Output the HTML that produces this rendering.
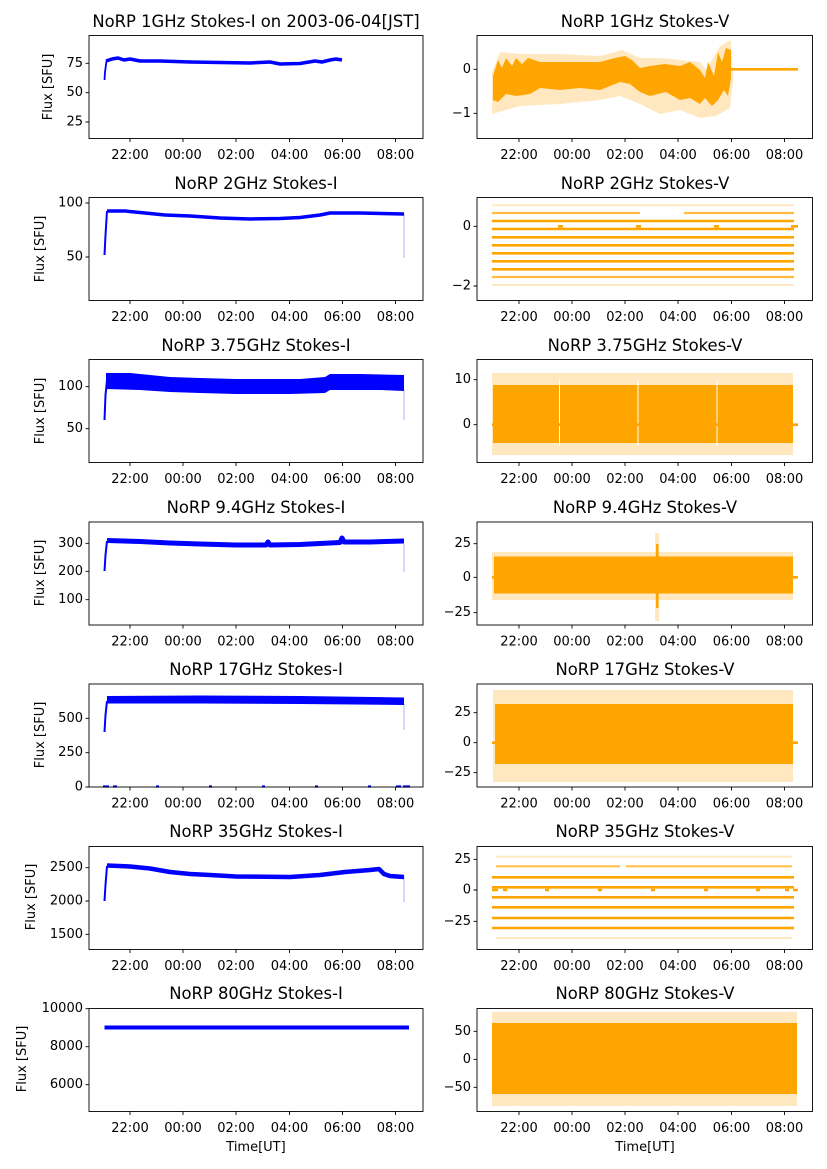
<!DOCTYPE html>
<html><head><meta charset="utf-8"><style>
html,body{margin:0;padding:0;background:#fff}
svg{display:block}
text{font-family:"DejaVu Sans","Liberation Sans",sans-serif;fill:#000}
.t{font-size:16.4px;text-anchor:middle}
.xl{font-size:13px;text-anchor:middle}
.yl{font-size:13px;text-anchor:end;dominant-baseline:central}
.ax{fill:none;stroke:#000;stroke-width:0.9}
.tk{stroke:#000;stroke-width:0.9}
.b{fill:none;stroke:#0000ff;stroke-linejoin:round}
.o{fill:#ffa500}
.of{fill:#ffa500;opacity:0.25}
.ol{stroke:#ffa500;stroke-width:2.6}
</style></head><body>
<svg width="827" height="1169" viewBox="0 0 827 1169" xmlns="http://www.w3.org/2000/svg">
<rect width="827" height="1169" fill="#fff"/>

<!-- ===== Titles ===== -->
<text class="t" x="256" y="27">NoRP 1GHz Stokes-I on 2003-06-04[JST]</text>
<text class="t" x="645" y="27">NoRP 1GHz Stokes-V</text>
<text class="t" x="256" y="189">NoRP 2GHz Stokes-I</text>
<text class="t" x="645" y="189">NoRP 2GHz Stokes-V</text>
<text class="t" x="256" y="351">NoRP 3.75GHz Stokes-I</text>
<text class="t" x="645" y="351">NoRP 3.75GHz Stokes-V</text>
<text class="t" x="256" y="513">NoRP 9.4GHz Stokes-I</text>
<text class="t" x="645" y="513">NoRP 9.4GHz Stokes-V</text>
<text class="t" x="256" y="675">NoRP 17GHz Stokes-I</text>
<text class="t" x="645" y="675">NoRP 17GHz Stokes-V</text>
<text class="t" x="256" y="837">NoRP 35GHz Stokes-I</text>
<text class="t" x="645" y="837">NoRP 35GHz Stokes-V</text>
<text class="t" x="256" y="999">NoRP 80GHz Stokes-I</text>
<text class="t" x="645" y="999">NoRP 80GHz Stokes-V</text>

<!-- ===== Y axis labels ===== -->
<text font-size="13" text-anchor="middle" transform="translate(52,87) rotate(-90)">Flux [SFU]</text>
<text font-size="13" text-anchor="middle" transform="translate(44,249) rotate(-90)">Flux [SFU]</text>
<text font-size="13" text-anchor="middle" transform="translate(44,411) rotate(-90)">Flux [SFU]</text>
<text font-size="13" text-anchor="middle" transform="translate(44,573) rotate(-90)">Flux [SFU]</text>
<text font-size="13" text-anchor="middle" transform="translate(44,735) rotate(-90)">Flux [SFU]</text>
<text font-size="13" text-anchor="middle" transform="translate(35,897) rotate(-90)">Flux [SFU]</text>
<text font-size="13" text-anchor="middle" transform="translate(26,1059) rotate(-90)">Flux [SFU]</text>

<!-- ===== X ticks ===== -->
<g id="xt">
<g class="tk">
<path d="M130,138.5v3.5M183,138.5v3.5M236,138.5v3.5M289.5,138.5v3.5M342.5,138.5v3.5M395.5,138.5v3.5
M519,138.5v3.5M572,138.5v3.5M625,138.5v3.5M678,138.5v3.5M731.5,138.5v3.5M784.5,138.5v3.5"/>
</g>
</g>
<use href="#xt" y="162"/><use href="#xt" y="324"/><use href="#xt" y="486.5"/><use href="#xt" y="648.5"/><use href="#xt" y="811"/><use href="#xt" y="973"/>

<g class="xl">
<text x="130" y="159">22:00</text><text x="183" y="159">00:00</text><text x="236" y="159">02:00</text><text x="289.5" y="159">04:00</text><text x="342.5" y="159">06:00</text><text x="395.5" y="159">08:00</text>
<text x="519" y="159">22:00</text><text x="572" y="159">00:00</text><text x="625" y="159">02:00</text><text x="678" y="159">04:00</text><text x="731.5" y="159">06:00</text><text x="784.5" y="159">08:00</text>
<text x="130" y="321">22:00</text><text x="183" y="321">00:00</text><text x="236" y="321">02:00</text><text x="289.5" y="321">04:00</text><text x="342.5" y="321">06:00</text><text x="395.5" y="321">08:00</text>
<text x="519" y="321">22:00</text><text x="572" y="321">00:00</text><text x="625" y="321">02:00</text><text x="678" y="321">04:00</text><text x="731.5" y="321">06:00</text><text x="784.5" y="321">08:00</text>
<text x="130" y="483">22:00</text><text x="183" y="483">00:00</text><text x="236" y="483">02:00</text><text x="289.5" y="483">04:00</text><text x="342.5" y="483">06:00</text><text x="395.5" y="483">08:00</text>
<text x="519" y="483">22:00</text><text x="572" y="483">00:00</text><text x="625" y="483">02:00</text><text x="678" y="483">04:00</text><text x="731.5" y="483">06:00</text><text x="784.5" y="483">08:00</text>
<text x="130" y="645.5">22:00</text><text x="183" y="645.5">00:00</text><text x="236" y="645.5">02:00</text><text x="289.5" y="645.5">04:00</text><text x="342.5" y="645.5">06:00</text><text x="395.5" y="645.5">08:00</text>
<text x="519" y="645.5">22:00</text><text x="572" y="645.5">00:00</text><text x="625" y="645.5">02:00</text><text x="678" y="645.5">04:00</text><text x="731.5" y="645.5">06:00</text><text x="784.5" y="645.5">08:00</text>
<text x="130" y="807.5">22:00</text><text x="183" y="807.5">00:00</text><text x="236" y="807.5">02:00</text><text x="289.5" y="807.5">04:00</text><text x="342.5" y="807.5">06:00</text><text x="395.5" y="807.5">08:00</text>
<text x="519" y="807.5">22:00</text><text x="572" y="807.5">00:00</text><text x="625" y="807.5">02:00</text><text x="678" y="807.5">04:00</text><text x="731.5" y="807.5">06:00</text><text x="784.5" y="807.5">08:00</text>
<text x="130" y="970">22:00</text><text x="183" y="970">00:00</text><text x="236" y="970">02:00</text><text x="289.5" y="970">04:00</text><text x="342.5" y="970">06:00</text><text x="395.5" y="970">08:00</text>
<text x="519" y="970">22:00</text><text x="572" y="970">00:00</text><text x="625" y="970">02:00</text><text x="678" y="970">04:00</text><text x="731.5" y="970">06:00</text><text x="784.5" y="970">08:00</text>
<text x="130" y="1132">22:00</text><text x="183" y="1132">00:00</text><text x="236" y="1132">02:00</text><text x="289.5" y="1132">04:00</text><text x="342.5" y="1132">06:00</text><text x="395.5" y="1132">08:00</text>
<text x="519" y="1132">22:00</text><text x="572" y="1132">00:00</text><text x="625" y="1132">02:00</text><text x="678" y="1132">04:00</text><text x="731.5" y="1132">06:00</text><text x="784.5" y="1132">08:00</text>
</g>
<text font-size="13" text-anchor="middle" x="256" y="1151">Time[UT]</text>
<text font-size="13" text-anchor="middle" x="645" y="1151">Time[UT]</text>

<!-- ===== Y ticks ===== -->
<g class="tk">
<path d="M89,63.3h-3.5M89,92.7h-3.5M89,122h-3.5
M477,69.3h-3.5M477,113.3h-3.5
M89,203h-3.5M89,257h-3.5
M477,226.3h-3.5M477,286h-3.5
M89,386.7h-3.5M89,428.7h-3.5
M477,379.7h-3.5M477,424.7h-3.5
M89,543.3h-3.5M89,571.3h-3.5M89,599.7h-3.5
M477,543.7h-3.5M477,577.3h-3.5M477,612.7h-3.5
M89,718.3h-3.5M89,752.7h-3.5M89,787h-3.5
M477,712.7h-3.5M477,742.7h-3.5M477,772.7h-3.5
M89,867.7h-3.5M89,901h-3.5M89,934.3h-3.5
M477,859.3h-3.5M477,890h-3.5M477,921.3h-3.5
M89,1008.7h-3.5M89,1046.7h-3.5M89,1084.7h-3.5
M477,1031.3h-3.5M477,1059.3h-3.5M477,1087.3h-3.5"/>
</g>
<g class="yl">
<text x="83" y="63.3">75</text><text x="83" y="92.7">50</text><text x="83" y="122">25</text>
<text x="471" y="69.3">0</text><text x="471" y="113.3">−1</text>
<text x="83" y="203">100</text><text x="83" y="257">50</text>
<text x="471" y="226.3">0</text><text x="471" y="286">−2</text>
<text x="83" y="386.7">100</text><text x="83" y="428.7">50</text>
<text x="471" y="379.7">10</text><text x="471" y="424.7">0</text>
<text x="83" y="543.3">300</text><text x="83" y="571.3">200</text><text x="83" y="599.7">100</text>
<text x="471" y="543.7">25</text><text x="471" y="577.3">0</text><text x="471" y="612.7">−25</text>
<text x="83" y="718.3">500</text><text x="83" y="752.7">250</text><text x="83" y="787">0</text>
<text x="471" y="712.7">25</text><text x="471" y="742.7">0</text><text x="471" y="772.7">−25</text>
<text x="83" y="867.7">2500</text><text x="83" y="901">2000</text><text x="83" y="934.3">1500</text>
<text x="471" y="859.3">25</text><text x="471" y="890">0</text><text x="471" y="921.3">−25</text>
<text x="83" y="1008.7">10000</text><text x="83" y="1046.7">8000</text><text x="83" y="1084.7">6000</text>
<text x="471" y="1031.3">50</text><text x="471" y="1059.3">0</text><text x="471" y="1087.3">−50</text>
</g>

<!-- ===== LEFT DATA (blue) ===== -->
<path class="b" stroke-width="1.8" d="M104.5,80 L105,72 L106.5,61"/>
<path class="b" stroke-width="3.5" d="M106,61 L112,59 L118,58 L124,60 L130,59 L140,61 L160,61 L190,62 L220,62.5 L250,63 L270,62 L280,64 L300,63.5 L315,61 L322,62 L330,60 L336,59 L342,60"/>
<path class="b" stroke-width="2" d="M104.5,255 L105.5,235 L107,211"/>
<path class="b" stroke-width="3.5" d="M107,211 L125,211 L145,213 L165,215 L190,216 L220,218 L250,219 L280,218.5 L300,217.5 L320,215 L330,213 L360,213 L404,214"/>
<path stroke="#0000ff" stroke-opacity="0.3" stroke-width="1" d="M404,214 V258"/>
<path class="b" stroke-width="2" d="M104.5,420 L105.5,395 L107,380"/>
<path fill="#0000ff" d="M106,373 L130,373 L160,376 L170,377 L200,378 L236,379 L270,379 L300,379 L325,377 L330,374 L360,374 L404,375 L404,391 L380,390 L330,390 L325,393 L290,394 L236,394 L200,393 L170,392 L140,390 L106,389 Z"/>
<path stroke="#0000ff" stroke-opacity="0.3" stroke-width="1" d="M404,390 V420"/>
<path class="b" stroke-width="2" d="M104.5,571 L105.5,555 L107,541"/>
<path class="b" stroke-width="5" d="M107,540.5 L140,541.5 L170,543 L200,544 L236,545 L266,545 L268,542 L270,545 L300,544.5 L340,542.5 L342,538 L344,542 L370,542 L404,541"/>
<path stroke="#0000ff" stroke-opacity="0.3" stroke-width="1" d="M404,544 V572"/>
<path class="b" stroke-width="2" d="M104.5,732 L105.5,715 L107,701"/>
<path fill="#0000ff" d="M107,696 L200,695.5 L300,696 L404,697.5 L404,705 L300,704 L200,703.5 L107,703.5 Z"/>
<path stroke="#0000ff" stroke-opacity="0.3" stroke-width="1" d="M404,704 V730"/>
<path stroke="#0000ff" stroke-width="2.2" d="M103,786.5h6M113,786.5h4M156,786.5h3M209,786.5h3M262,786.5h3M315,786.5h3M368,786.5h3M396,786.5h5M403,786.5h7"/>
<path class="b" stroke-width="2" d="M104.5,901 L105.5,885 L107,866"/>
<path class="b" stroke-width="4.5" d="M107,865.5 L130,866.5 L150,868.5 L170,872 L190,874 L210,875 L236,876.5 L290,877 L320,875 L345,872 L370,870 L379,869 L384,874 L390,876 L404,877"/>
<path stroke="#0000ff" stroke-opacity="0.3" stroke-width="1" d="M404,877 V902"/>
<path class="b" stroke-width="4" d="M104.5,1027.5 L409,1027.5"/>

<!-- ===== RIGHT DATA (orange) ===== -->
<path class="of" d="M492,72 L500,52 L520,54 L560,54 L600,56 L622,50 L640,58 L660,58 L680,60 L700,62 L706,70 L720,46 L731,40 L733,80 L730,108 L716,116 L700,118 L680,110 L660,114 L640,104 L620,96 L600,100 L560,104 L520,106 L492,114 Z"/>
<path class="o" d="M493,76 L498,60 L502,68 L506,58 L512,66 L516,58 L522,64 L528,58 L540,62 L560,62 L580,62 L600,62 L615,58 L625,56 L632,60 L640,68 L650,66 L665,64 L680,66 L690,62 L700,70 L705,78 L708,62 L714,76 L718,52 L722,62 L726,48 L731,50 L731,78 L728,96 L724,90 L718,100 L712,106 L705,98 L700,104 L690,98 L680,100 L666,92 L650,96 L640,92 L630,84 L620,82 L600,90 L580,88 L560,90 L540,88 L530,94 L516,96 L506,94 L498,102 L493,100 Z"/>
<path class="ol" d="M731,69.3 H798"/>
<g class="ol">
<path d="M492,221 H794M492,229 H794M492,237.3 H794M492,245.3 H794M492,253.3 H794M492,261.3 H794M492,269.3 H794"/>
<path d="M558,226.3h5M636,226.3h5M714,226.3h5M791,226.3h7"/>
</g>
<path stroke="#ffa500" stroke-width="2.2" stroke-opacity="0.75" d="M492,213 H640M684,213 H794M492,277 H794"/>
<path stroke="#ffa500" stroke-width="2" stroke-opacity="0.25" d="M492,205.3 H794M492,285 H794M640,285 H700"/>
<path class="of" d="M492,373 H793 V455 H492 Z"/>
<path class="o" d="M493,385 H793 V443 H493 Z"/>
<path stroke="#fff" stroke-width="1" d="M559.5,380 V446M638,380 V446M717,380 V446"/>
<path class="ol" d="M492,424.7 H798"/>
<path class="of" d="M492,552 H793 V600 H492 Z"/>
<path class="o" d="M494,556.5 H793 V593.5 H494 Z"/>
<path class="of" d="M655,533 h4 v88 h-4 Z"/>
<path class="o" d="M656,544 h2.5 v64 h-2.5 Z"/>
<path class="ol" d="M492,577.3 H798"/>
<path class="of" d="M493,690 H793 V782 H493 Z"/>
<path class="o" d="M495,704 H793 V764 H495 Z"/>
<path class="ol" d="M492,742.7 H798"/>
<g class="ol">
<path d="M492,877.3 H794M492,887.3 H794M492,897.3 H794M492,907.3 H794M492,918 H794M492,928 H794"/>
<path d="M492,890h6M503,890h4M545,890h4M598,890h4M651,890h4M704,890h4M756,890h4M785,890h4M793,890h5"/>
</g>
<path stroke="#ffa500" stroke-width="2.2" stroke-opacity="0.7" d="M496,866.3 H620M626,866.3 H792"/>
<path stroke="#ffa500" stroke-width="2" stroke-opacity="0.25" d="M496,856.7 H792M496,938 H792"/>
<path class="of" d="M492,1012 H797 V1106 H492 Z"/>
<path class="o" d="M492,1023 H797 V1094 H492 Z"/>

<!-- ===== Axes frames ===== -->
<g class="ax">
<rect x="89" y="35.5" width="334" height="103"/>
<rect x="477" y="35.5" width="335.5" height="103"/>
<rect x="89" y="197.5" width="334" height="103"/>
<rect x="477" y="197.5" width="335.5" height="103"/>
<rect x="89" y="359.5" width="334" height="103"/>
<rect x="477" y="359.5" width="335.5" height="103"/>
<rect x="89" y="522" width="334" height="103"/>
<rect x="477" y="522" width="335.5" height="103"/>
<rect x="89" y="684" width="334" height="103"/>
<rect x="477" y="684" width="335.5" height="103"/>
<rect x="89" y="846.5" width="334" height="103"/>
<rect x="477" y="846.5" width="335.5" height="103"/>
<rect x="89" y="1008.5" width="334" height="103"/>
<rect x="477" y="1008.5" width="335.5" height="103"/>
</g>
</svg>
</body></html>
